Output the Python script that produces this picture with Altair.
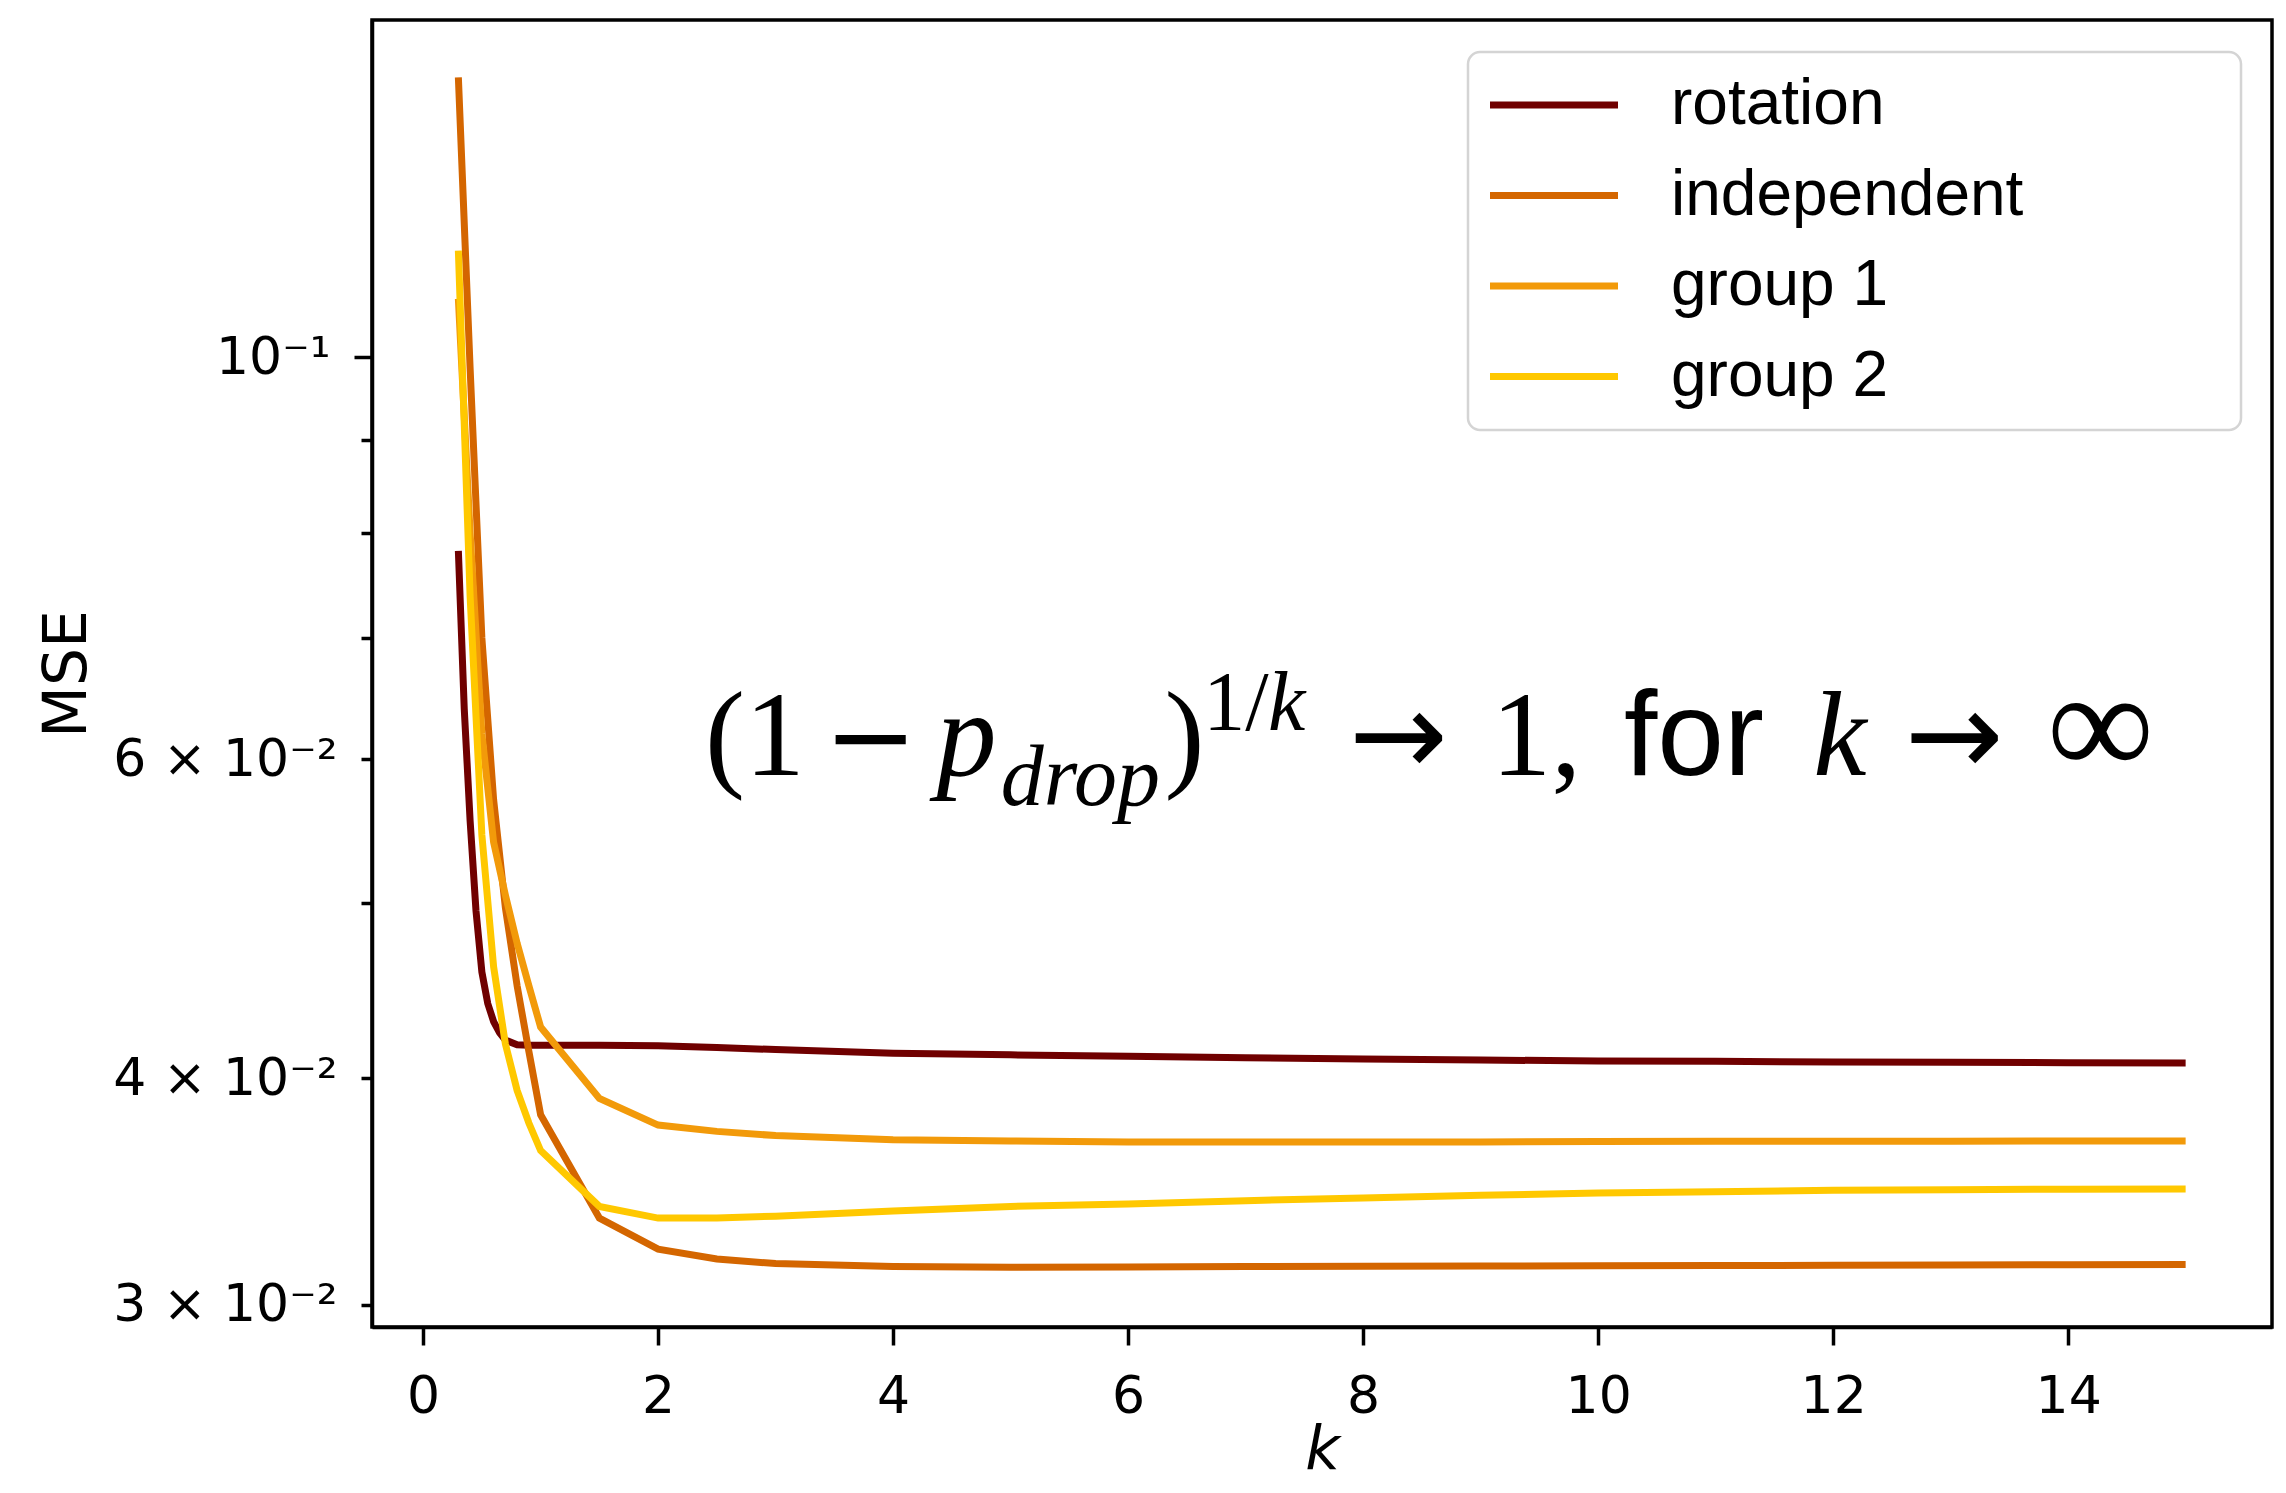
import altair as alt
import pandas as pd

# ---------------- data ----------------
series_names = ["rotation", "independent", "group 1", "group 2"]
series_colors = ["#700000", "#d46600", "#f29a0a", "#ffc800"]

rot_k = [0.3, 0.35, 0.4, 0.45, 0.5, 0.55, 0.6, 0.65, 0.7, 0.8, 0.9, 1.0, 1.5, 2, 2.5,
         3, 4, 5, 6, 7, 8, 9, 10, 11, 12, 13, 14, 15]
rot_mse = [0.0782, 0.0640, 0.0555, 0.0495, 0.0458, 0.0440, 0.0430, 0.0424, 0.0420,
           0.04175, 0.04172, 0.04172, 0.04172, 0.0417, 0.0416, 0.0415, 0.0413, 0.04122,
           0.04115, 0.04107, 0.0410, 0.04095, 0.0409, 0.04088, 0.04085, 0.04083, 0.04081, 0.0408]

grid_k = [0.3, 0.4, 0.5, 0.6, 0.7, 0.8, 0.9, 1.0, 1.5, 2, 2.5,
          3, 4, 5, 6, 7, 8, 9, 10, 11, 12, 13, 14, 15]
indep_mse = [0.1427, 0.0986, 0.0700, 0.0570, 0.0497, 0.0450, 0.0414, 0.0382, 0.0335,
             0.0322, 0.0318, 0.03162, 0.0315, 0.03147, 0.03148, 0.0315, 0.03151, 0.03152,
             0.03153, 0.03154, 0.03155, 0.03156, 0.03157, 0.03158]
group1_mse = [0.1077, 0.0800, 0.0620, 0.0540, 0.0505, 0.0475, 0.0450, 0.0427, 0.0390,
              0.0377, 0.0374, 0.0372, 0.0370, 0.03695, 0.0369, 0.0369, 0.0369, 0.0369,
              0.03692, 0.03693, 0.03694, 0.03694, 0.03695, 0.03695]
group2_mse = [0.1145, 0.0738, 0.0545, 0.0461, 0.0418, 0.0394, 0.0378, 0.0365, 0.0340,
              0.0335, 0.0335, 0.03358, 0.0338, 0.0340, 0.0341, 0.03425, 0.03437, 0.03448,
              0.03458, 0.03464, 0.0347, 0.03473, 0.03475, 0.03476]

x_ticks = [0, 2, 4, 6, 8, 10, 12, 14]
y_ticks = [0.03, 0.04, 0.05, 0.06, 0.07, 0.08, 0.09, 0.1]
y_tick_labels = {0.1: "10⁻¹", 0.06: "6 × 10⁻²", 0.04: "4 × 10⁻²", 0.03: "3 × 10⁻²"}

# formula annotation pieces
f_text = ["(1", "−", "p", "drop", ")", "1/", "k", "→", "1,", "for", "k", "→", "∞"]
f_k = [2.398, 3.41, 4.37, 4.915, 6.31, 6.64, 7.19, 7.88, 9.09, 10.22, 11.83, 12.61, 13.82]
f_mse = [0.05879, 0.05879, 0.05879, 0.05661, 0.05879, 0.06225, 0.06225, 0.05879,
         0.05879, 0.05879, 0.05879, 0.05879, 0.05879]
f_size = [120, 112, 120, 86, 120, 84, 84, 118, 120, 120, 120, 118, 150]
f_kind = ["serif", "arrow", "italic", "italic", "serif", "serif", "italic", "arrow",
          "serif", "sans", "italic", "arrow", "serif"]

# ---------------- tables ----------------
rows = []
for k, v in zip(rot_k, rot_mse):
    rows.append({"k": k, "mse": v, "method": "rotation"})
for name, vals in [("independent", indep_mse), ("group 1", group1_mse), ("group 2", group2_mse)]:
    for k, v in zip(grid_k, vals):
        rows.append({"k": k, "mse": v, "method": name})
df = pd.DataFrame(rows)
df["order"] = df["method"].map({n: i for i, n in enumerate(series_names)})

fdf = pd.DataFrame({"t": f_text, "k": f_k, "mse": f_mse, "fs": f_size, "kind": f_kind})

W, H = 1900, 1307
xdom = [-0.435, 15.735]
ydom = [0.02917, 0.1535]

label_expr = ("datum.value == 0.1 ? '" + y_tick_labels[0.1] + "' : datum.value == 0.06 ? '"
              + y_tick_labels[0.06] + "' : datum.value == 0.04 ? '" + y_tick_labels[0.04]
              + "' : datum.value == 0.03 ? '" + y_tick_labels[0.03] + "' : ''")

x_enc = alt.X("k:Q", scale=alt.Scale(domain=xdom, nice=False, zero=False),
              axis=alt.Axis(values=x_ticks, format="d", title="k", grid=False,
                            labelFont="DejaVu Sans", labelLimit=0,
                            labelFontSize=52, labelPadding=26, tickSize=18, tickWidth=3.5,
                            titleFont="DejaVu Sans", titleFontStyle="italic",
                            titleFontSize=60, titleFontWeight="normal",
                            titleY=141, titleBaseline="alphabetic"))
y_enc = alt.Y("mse:Q", scale=alt.Scale(type="log", domain=ydom, nice=False, zero=False),
              axis=alt.Axis(values=y_ticks, labelExpr=label_expr, title="MSE", grid=False,
                            labelFont="DejaVu Sans", labelFontSize=52, labelPadding=24,
                            labelLimit=0,
                            tickSize={"condition": {"test": "datum.value == 0.1", "value": 18},
                                      "value": 11},
                            tickWidth=3.5, labelBaseline="middle",
                            titleFont="DejaVu Sans", titleFontSize=60, titleFontWeight="normal",
                            titleX=-305, titleY=653.5, titleAngle=270,
                            titleBaseline="middle", titleAlign="center"))

lines = alt.Chart(df).mark_line(strokeWidth=7, clip=True).encode(
    x=x_enc, y=y_enc,
    color=alt.Color("method:N",
                    scale=alt.Scale(domain=series_names, range=series_colors),
                    legend=alt.Legend(title=None, orient="none", legendX=1146.5, legendY=49.5,
                                      symbolType="M-2,0H2", symbolSize=4096,
                                      symbolStrokeWidth=7, labelFont="Liberation Sans",
                                      labelFontSize=64, labelOffset=81.5, rowPadding=22.5,
                                      labelLimit=0, labelColor="black", padding=0)),
    order="order:Q",
)

frame = alt.Chart(pd.DataFrame({"a": [0]})).mark_rect(
    fill="white", fillOpacity=0.8, stroke="#d4d4d4", strokeWidth=2.5, cornerRadius=12
).encode(x=alt.value(1096), x2=alt.value(1869), y=alt.value(32), y2=alt.value(410))

def text_layer(kind, font, style):
    return alt.Chart(fdf).transform_filter(alt.datum.kind == kind).mark_text(
        font=font, fontStyle=style, align="left", baseline="alphabetic", color="black"
    ).encode(x="k:Q", y="mse:Q", text="t:N", size=alt.Size("fs:Q", scale=None, legend=None))

t_serif = text_layer("serif", "Liberation Serif", "normal")
t_ital = text_layer("italic", "Liberation Serif", "italic")
t_sans = text_layer("sans", "Liberation Sans", "normal")
t_arrow = text_layer("arrow", "DejaVu Sans", "normal")

chart = alt.layer(lines, frame, t_serif, t_ital, t_sans, t_arrow).properties(
    width=W, height=H,
    autosize=alt.AutoSizeParams(type="none"),
    padding={"left": 364, "top": 12, "right": 6, "bottom": 154},
).configure_view(stroke="black", strokeWidth=3.5).configure_axis(
    domainColor="black", domainWidth=3.5, tickColor="black", labelColor="black",
    titleColor="black"
)

chart.save("out.html", embed_options={"renderer": "svg", "actions": False})
